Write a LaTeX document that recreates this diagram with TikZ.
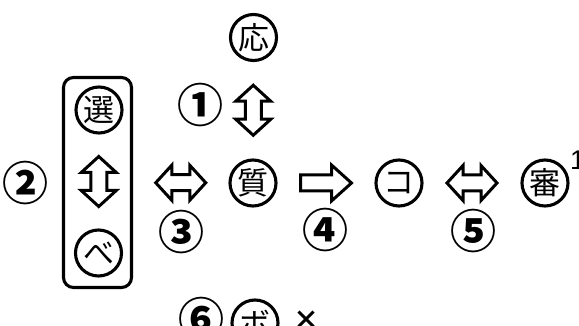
\documentclass[tikz,border=0pt]{standalone}
\usepackage{fontspec}
\newfontfamily\jp{Noto Sans CJK JP}
\setmainfont{Liberation Sans}
\usetikzlibrary{calc}
\tikzset{
  kan/.style={circle,draw,line width=3.1pt,minimum size=46pt,inner sep=0pt,
    font=\jp\fontsize{31}{31}\selectfont},
  num/.style={inner sep=0pt,font=\jp\bfseries\fontsize{46}{46}\selectfont},
  arrowline/.style={draw,line width=3pt,line join=miter},
  dblarr/.pic={\draw[arrowline] (-25,0) -- (-9,17.5) -- (-9,8) -- (9,8) -- (9,17.5)
     -- (25,0) -- (9,-17.5) -- (9,-8) -- (-9,-8) -- (-9,-17.5) -- cycle;},
  sglarr/.pic={\draw[arrowline] (-25.5,8) -- (5.5,8) -- (5.5,18) -- (25.5,0)
     -- (5.5,-18) -- (5.5,-8) -- (-25.5,-8) -- cycle;}
}
\begin{document}
\begin{tikzpicture}[x=1pt,y=-1pt]
\useasboundingbox (0,0) rectangle (579,326);
\clip (0,0) rectangle (579,326);
\node[kan] (o) at (253.5,37.5) {応};
\node[kan] (sh) at (253,183) {質};
\node[kan] (se) at (99,110) {選};
\node[kan] (be) at (98.5,253) {べ};
\node[kan] (ko) at (399,183) {コ};
\node[kan] (sin) at (545,183) {審};
\node[kan] (bo) at (255,323) {ボ};
\node[draw,line width=3.1pt,rounded corners=10pt,minimum width=68pt,minimum height=210pt,inner sep=0pt] (box) at (97.5,182.5) {};
\pic[rotate=90] at ($(o)!0.5!(sh)$) {dblarr};
\pic[rotate=90] at ($(se)!0.5!(be)$) {dblarr};
\pic at ($(box.east)!0.5!(sh.west)$) {dblarr};
\pic at ($(sh)!0.5!(ko)$) {sglarr};
\pic at ($(ko)!0.5!(sin)$) {dblarr};
\node[num] (n1) at (200,105) {①};
\node[num] (n2) at (25.5,183) {②};
\node[num] (n3) at (181,232) {③};
\node[num] (n4) at (325.5,230.5) {④};
\node[num] (n5) at (473.5,231) {⑤};
\node[num] (n6) at (201,319) {⑥};
\node[inner sep=0pt,font=\jp\bfseries\fontsize{26}{26}\selectfont] (x1) at (306,320) {×};
\node[inner sep=0pt,anchor=west,font=\fontsize{27}{27}\selectfont] (sup) at (570,160) {1};
\end{tikzpicture}
\end{document}
